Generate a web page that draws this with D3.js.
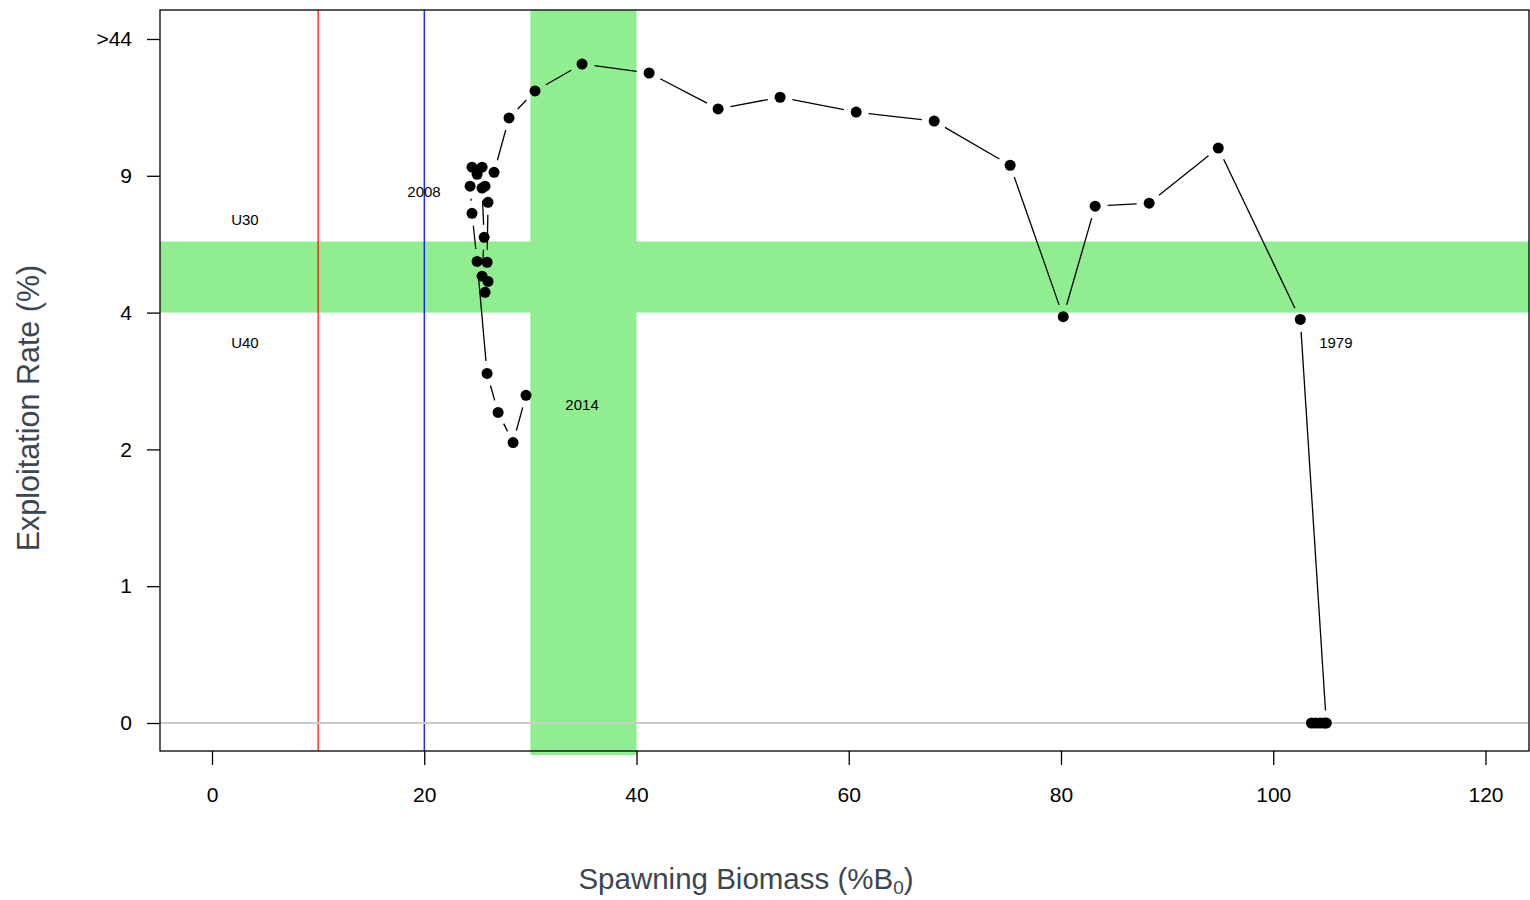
<!DOCTYPE html>
<html>
<head>
<meta charset="utf-8">
<script src="https://cdn.jsdelivr.net/npm/d3@7"></script>
<style>
  html, body { margin: 0; padding: 0; background: #fff; }
  svg { display: block; font-family: "Liberation Sans", Arial, sans-serif; }
</style>
</head>
<body>
<svg id="chart" width="1530" height="900"></svg>
<script>
// spawning biomass (%B0) per year, oldest first
const biomass = [103.6, 104.0, 104.4, 104.8, 105.0, 102.55, 94.82, 88.31, 83.22, 80.21,
  75.21, 68.05, 60.70, 53.53, 47.69, 41.19, 34.87, 30.44, 27.99, 26.58,
  25.45, 24.50, 24.98, 25.73, 26.01, 25.92, 26.01, 25.73, 25.45, 25.64,
  25.45, 24.32, 24.50, 24.98, 25.92, 26.96, 28.37, 29.59];
// exploitation rate (%)
const exploitation = [0, 0, 0, 0, 0, 3.90, 16.1, 8.0, 7.89, 3.94,
  11.7, 23.0, 25.3, 29.1, 26.1, 35.3, 37.6, 30.7, 23.8, 9.9,
  11.2, 11.2, 9.4, 8.62, 8.03, 5.84, 5.14, 4.74, 5.33, 6.75,
  8.55, 8.62, 7.63, 5.87, 3.11, 2.54, 2.10, 2.79];

const xTicks = [0, 20, 40, 60, 80, 100, 120];
const yTicks = [0, 1, 2, 4, 9, 44];
const yTickLabels = ["0", "1", "2", "4", "9", ">44"];

// reference zones
const biomassZone = [30, 40];
const exploitZone = [4, 6.6];
const limitRef = 10;   // red
const targetRef = 20;  // blue

const notes = [
  { text: "U30", x: 3.1, y: 7.39 },
  { text: "U40", x: 3.1, y: 3.57 },
  { text: "2008", x: 19.98, y: 8.44 },
  { text: "2014", x: 34.87, y: 2.65 },
  { text: "1979", x: 105.9, y: 3.57 }
];

const svg = d3.select("#chart");
const box = { left: 160, top: 10, right: 1529, bottom: 751 };

const x = d3.scaleLinear().domain([-4.9, 124.1]).range([box.left, box.right]);
// evenly spaced labels -> piecewise scale
const y = d3.scaleLinear()
  .domain(yTicks)
  .range(yTicks.map((d, i) => 723 - i * 136.8));

const green = "#90EE90";

// green bands
svg.append("rect")
  .attr("x", box.left).attr("width", box.right - box.left)
  .attr("y", y(exploitZone[1])).attr("height", y(exploitZone[0]) - y(exploitZone[1]))
  .attr("fill", green);
svg.append("rect")
  .attr("x", x(biomassZone[0])).attr("width", x(biomassZone[1]) - x(biomassZone[0]))
  .attr("y", box.top).attr("height", box.bottom - box.top + 4)
  .attr("fill", green);

// reference lines
svg.append("line")
  .attr("x1", x(limitRef)).attr("x2", x(limitRef))
  .attr("y1", box.top).attr("y2", box.bottom)
  .attr("stroke", "red").attr("stroke-width", 1.2);
svg.append("line")
  .attr("x1", x(targetRef)).attr("x2", x(targetRef))
  .attr("y1", box.top).attr("y2", box.bottom)
  .attr("stroke", "blue").attr("stroke-width", 1.2);
svg.append("line")
  .attr("x1", box.left).attr("x2", box.right)
  .attr("y1", y(0)).attr("y2", y(0))
  .attr("stroke", "#cccccc").attr("stroke-width", 2);

// frame
svg.append("rect")
  .attr("x", box.left).attr("y", box.top)
  .attr("width", box.right - box.left).attr("height", box.bottom - box.top)
  .attr("fill", "none").attr("stroke", "#000").attr("stroke-width", 1.3);

// axes
const xAxis = svg.append("g")
  .attr("transform", `translate(0,${box.bottom})`)
  .call(d3.axisBottom(x).tickValues(xTicks).tickSize(14).tickPadding(22));
const yAxis = svg.append("g")
  .attr("transform", `translate(${box.left},0)`)
  .call(d3.axisLeft(y).tickValues(yTicks).tickSize(13).tickPadding(15)
    .tickFormat((d, i) => yTickLabels[i]));
[xAxis, yAxis].forEach(g => {
  g.select(".domain").remove();
  g.selectAll("line").attr("stroke", "#000").attr("stroke-width", 1.3);
  g.selectAll("text").attr("font-size", 21).attr("fill", "#000")
    .attr("font-family", "'Liberation Sans', Arial, sans-serif");
});

// axis titles
svg.append("text")
  .attr("x", 746).attr("y", 889)
  .attr("text-anchor", "middle")
  .attr("font-size", 29.5).attr("fill", "#3c4650")
  .call(t => {
    t.append("tspan").text("Spawning Biomass (%B");
    t.append("tspan").attr("font-size", 19).attr("dy", 5).text("0");
    t.append("tspan").attr("dy", -5).text(")");
  });
svg.append("text")
  .attr("transform", "translate(39,408) rotate(-90)")
  .attr("text-anchor", "middle")
  .attr("font-size", 30.5).attr("fill", "#3c4650")
  .text("Exploitation Rate (%)");

// trajectory: segments stop short of the points
const pts = biomass.map((b, i) => [x(b), y(exploitation[i])]);
const gap = 12.5;
const segs = [];
for (let i = 1; i < pts.length; i++) {
  const [x1, y1] = pts[i - 1], [x2, y2] = pts[i];
  const d = Math.hypot(x2 - x1, y2 - y1);
  if (d > 2 * gap) {
    const ux = (x2 - x1) / d, uy = (y2 - y1) / d;
    segs.push([x1 + ux * gap, y1 + uy * gap, x2 - ux * gap, y2 - uy * gap]);
  }
}
svg.append("g").selectAll("line").data(segs).join("line")
  .attr("x1", d => d[0]).attr("y1", d => d[1])
  .attr("x2", d => d[2]).attr("y2", d => d[3])
  .attr("stroke", "#000").attr("stroke-width", 1.3);

svg.append("g").selectAll("circle").data(pts).join("circle")
  .attr("cx", d => d[0]).attr("cy", d => d[1])
  .attr("r", 5.5).attr("fill", "#000");

// notes
svg.append("g").selectAll("text").data(notes).join("text")
  .attr("x", d => x(d.x)).attr("y", d => y(d.y))
  .attr("text-anchor", "middle").attr("dominant-baseline", "central")
  .attr("font-size", 15).attr("fill", "#000")
  .text(d => d.text);
</script>
</body>
</html>
